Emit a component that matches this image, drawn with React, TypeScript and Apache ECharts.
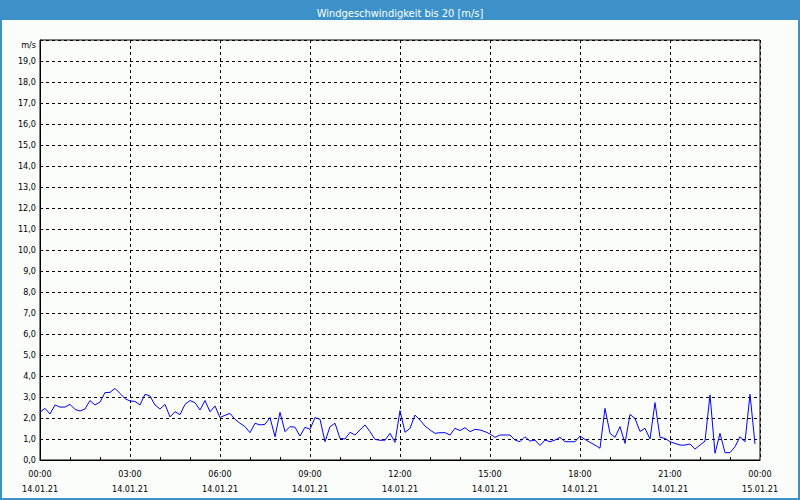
import React, { useEffect, useRef } from "react";
import * as echarts from "echarts";

const chartTitle = "Windgeschwindigkeit bis 20 [m/s]";
const unitLabel = "m/s";
const sampleMinutes = 10;
const startHour = 0;
const timeTickLabels = ["00:00", "03:00", "06:00", "09:00", "12:00", "15:00", "18:00", "21:00", "00:00"];
const dateTickLabels = ["14.01.21", "14.01.21", "14.01.21", "14.01.21", "14.01.21", "14.01.21", "14.01.21", "14.01.21", "15.01.21"];
const windSpeed = [
  2.27, 2.46, 2.19, 2.62, 2.52, 2.52, 2.65, 2.41, 2.33, 2.43,
  2.83, 2.62, 2.76, 3.21, 3.22, 3.41, 3.17, 2.92, 2.81, 2.79,
  2.62, 3.13, 3.05, 2.62, 2.43, 2.65, 2.05, 2.30, 2.16, 2.65,
  2.83, 2.73, 2.38, 2.83, 2.30, 2.57, 2.02, 2.13, 2.22, 1.94,
  1.75, 1.59, 1.30, 1.75, 1.67, 1.70, 2.02, 1.11, 2.27, 1.35,
  1.59, 1.56, 1.14, 1.56, 1.46, 2.02, 1.94, 0.87, 1.59, 1.75,
  1.03, 1.00, 1.32, 1.19, 1.43, 1.67, 1.35, 0.98, 0.94, 0.94,
  1.27, 0.84, 2.35, 1.32, 1.51, 2.14, 1.90, 1.62, 1.43, 1.27,
  1.30, 1.30, 1.19, 1.51, 1.40, 1.54, 1.35, 1.46, 1.43, 1.35,
  1.24, 1.08, 1.19, 1.19, 1.19, 0.95, 0.87, 1.11, 0.90, 0.95,
  0.69, 0.95, 0.87, 0.95, 1.08, 0.87, 0.87, 0.87, 1.14, 0.98,
  0.84, 0.71, 0.56, 2.46, 1.27, 1.08, 1.59, 0.79, 2.17, 1.98,
  1.36, 1.51, 1.00, 2.73, 1.08, 1.03, 0.87, 0.79, 0.71, 0.71,
  0.76, 0.52, 0.71, 0.90, 3.10, 0.32, 1.27, 0.35, 0.35, 0.63,
  1.11, 0.87, 3.13, 0.76,
];

const FONT = "Tahoma, 'DejaVu Sans Condensed', 'DejaVu Sans', sans-serif";
const FRAME_BLUE = "#3c91c8";

export default function App() {
  const ref = useRef<HTMLDivElement>(null);

  useEffect(() => {
    if (!ref.current) return;
    const chart = echarts.init(ref.current, null, { renderer: "svg" });
    const data = windSpeed.map((v, i) => [startHour + (i * sampleMinutes) / 60, v]);

    chart.setOption({
      animation: false,
      backgroundColor: "#fbfdfb",
      title: {
        text: chartTitle,
        left: "center",
        top: 3,
        textStyle: { color: "#ffffff", fontSize: 11, fontWeight: "normal", fontFamily: FONT },
        z: 10,
      },
      graphic: [
        { type: "rect", z: 1, shape: { x: 0, y: 0, width: 800, height: 20 }, style: { fill: FRAME_BLUE } },
        { type: "rect", z: 1, shape: { x: 1, y: 1, width: 798, height: 498 }, style: { fill: "none", stroke: FRAME_BLUE, lineWidth: 2 } },
      ],
      grid: { left: 40, right: 40, top: 40, bottom: 40, show: true, borderColor: "#000", borderWidth: 1, backgroundColor: "transparent" },
      xAxis: {
        type: "value",
        min: 0,
        max: 24,
        interval: 3,
        axisLine: { show: true, lineStyle: { color: "#000", width: 1 } },
        axisTick: { show: false, inside: true, length: 3, lineStyle: { color: "#000" } },
        minorTick: { show: true, splitNumber: 3, length: 3, lineStyle: { color: "#000", width: 1 } },
        splitLine: { show: true, lineStyle: { color: "#000", type: [3, 3], width: 1 } },
        axisLabel: {
          margin: 6,
          color: "#000",
          fontSize: 9,
          fontFamily: FONT,
          lineHeight: 15,
          formatter: (v: number) => {
            const k = Math.round(v / 3);
            return timeTickLabels[k] + "\n" + dateTickLabels[k];
          },
        },
      },
      yAxis: {
        type: "value",
        min: 0,
        max: 20,
        interval: 1,
        axisLine: { show: true, lineStyle: { color: "#000", width: 1 } },
        axisTick: { show: false },
        splitLine: { show: true, lineStyle: { color: "#000", type: [3, 3], width: 1 } },
        axisLabel: {
          margin: 4,
          color: "#000",
          fontSize: 9,
          fontFamily: FONT,
          formatter: (v: number) => (v === 20 ? "{u|" + unitLabel + "}" : v.toFixed(1).replace(".", ",")),
          rich: { u: { fontSize: 9, fontFamily: FONT, color: "#000", padding: [9, 0, 0, 0] } },
        },
      },
      series: [
        {
          type: "line",
          data,
          showSymbol: false,
          symbol: "none",
          lineStyle: { color: "#0000ff", width: 1 },
          z: 5,
        },
      ],
    });
    return () => chart.dispose();
  }, []);

  return <div ref={ref} style={{ position: "fixed", left: 0, top: 0, width: 800, height: 500 }} />;
}
